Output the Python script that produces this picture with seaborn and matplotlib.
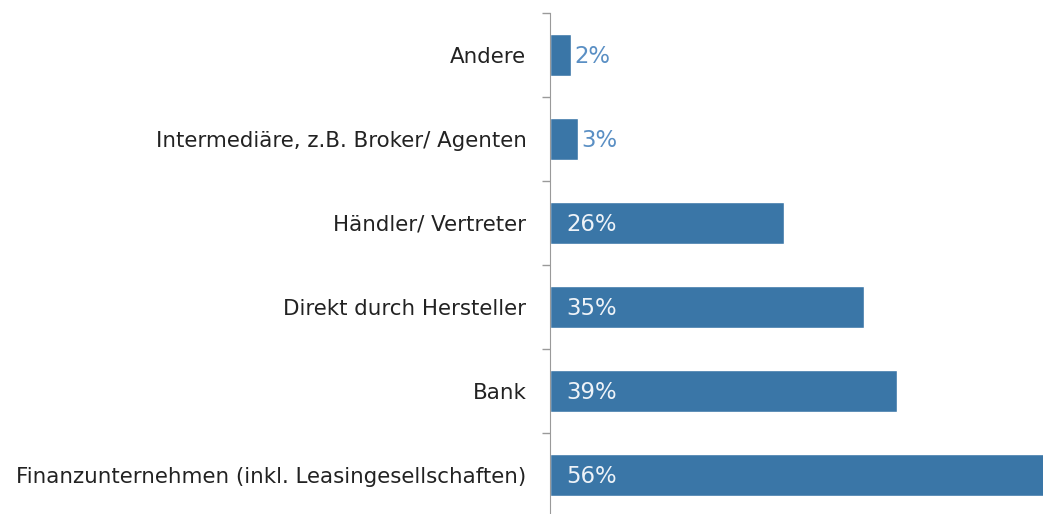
import matplotlib.pyplot as plt
import pandas as pd
import seaborn as sns

categories = [
    "Andere",
    "Intermediäre, z.B. Broker/ Agenten",
    "Händler/ Vertreter",
    "Direkt durch Hersteller",
    "Bank",
    "Finanzunternehmen (inkl. Leasingesellschaften)",
]
shares = [2.3, 3.1, 26.1, 35.1, 38.8, 56.0]

BAR = "#3a76a7"
OUT_LABEL = "#5a8fc4"
IN_LABEL = "#eef3f8"
AXIS = "#9a9a9a"

sns.set_style("white")
plt.rcParams["font.family"] = ["DejaVu Sans"]

df = pd.DataFrame({"category": categories, "share": shares})

fig = plt.figure(figsize=(10.43, 5.14), dpi=100)
ax = fig.add_axes([550 / 1043, -3 / 514, 493 / 1043, 504 / 514])
sns.barplot(data=df, x="share", y="category", order=categories,
            color=BAR, saturation=1, width=0.5, ax=ax)

ax.set_xlim(0, 55.1)
ax.set_ylim(len(categories) - 0.5, -0.5)
ax.set(xlabel="", ylabel="")
ax.set_xticks([])
ax.set_yticks([i - 0.5 for i in range(len(categories) + 1)], minor=True)
ax.tick_params(axis="y", which="major", length=0, pad=17, labelsize=15.4, labelcolor="#222222")
ax.tick_params(axis="y", which="minor", length=6, width=1, color=AXIS, left=True)
for side in ["top", "right", "bottom"]:
    ax.spines[side].set_visible(False)
ax.spines["left"].set_color(AXIS)

for i, v in enumerate(shares):
    txt = f"{round(v)}%"
    if v < 10:
        ax.text(v + 0.45, i + 0.02, txt, va="center", ha="left", fontsize=16.4, color=OUT_LABEL)
    else:
        ax.text(1.8, i + 0.02, txt, va="center", ha="left", fontsize=16.4, color=IN_LABEL)

fig.savefig("out.png", dpi=100)
